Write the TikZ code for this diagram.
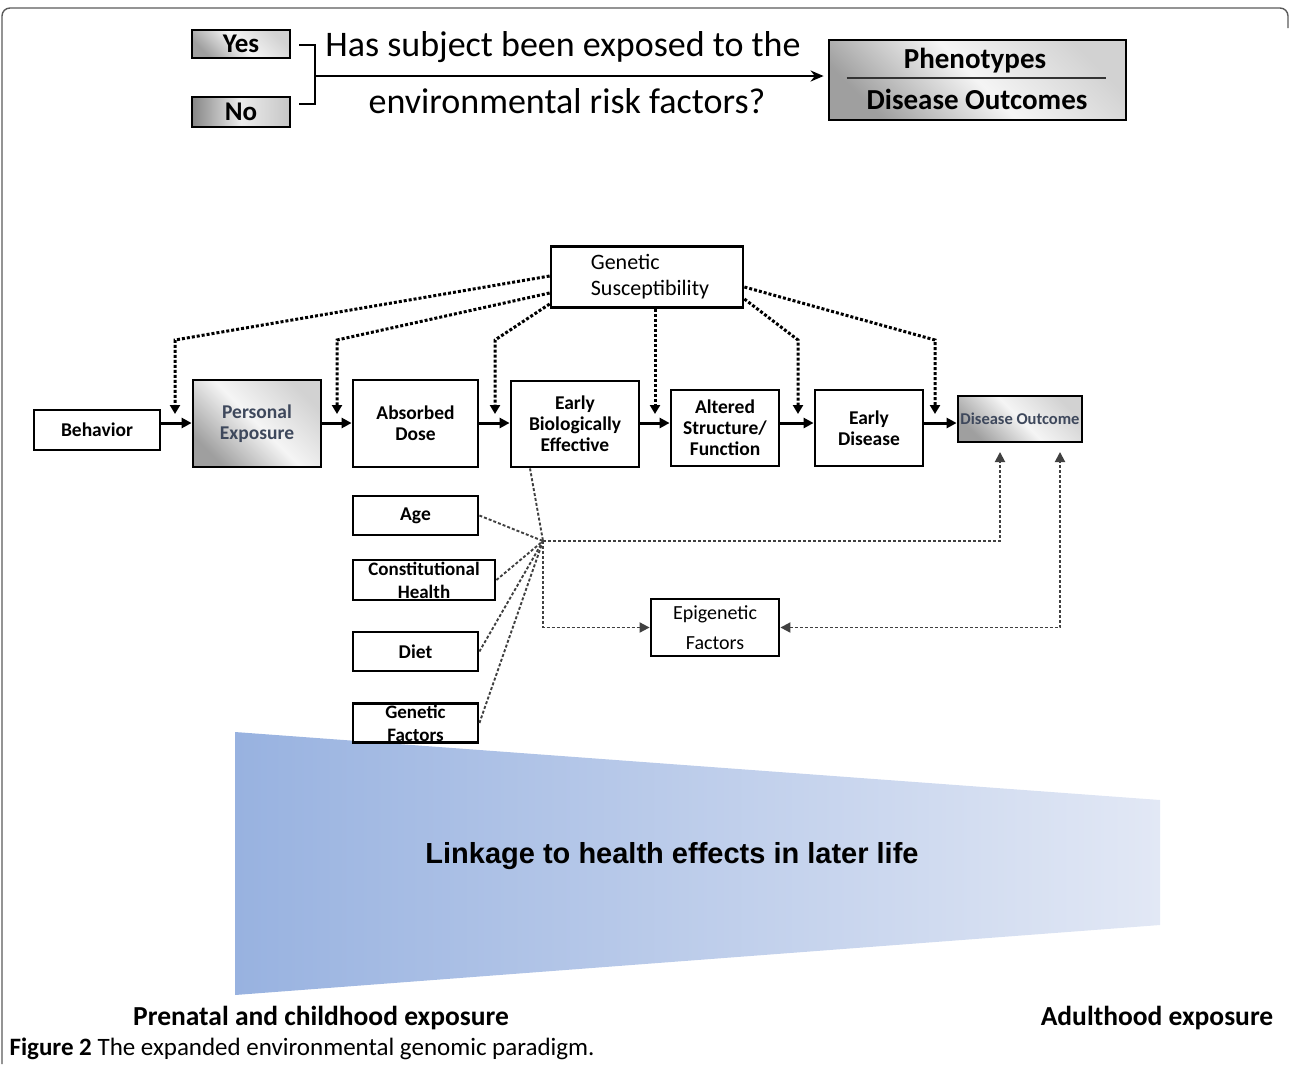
\documentclass[tikz,border=0pt]{standalone}
\usepackage{fontspec}
\setmainfont{Carlito}
\newfontfamily\arialfont{Liberation Sans}
\usetikzlibrary{arrows.meta}
\definecolor{slate}{RGB}{62,72,92}
\definecolor{wedgel}{RGB}{152,178,224}
\definecolor{wedger}{RGB}{226,232,245}
\definecolor{framec}{RGB}{90,90,90}

\begin{document}
\begin{tikzpicture}[x=1pt, y=-1pt,
  box/.style={draw=black, line width=2.8pt, fill=white, inner sep=1pt, align=center,
    font=\fontsize{19.5}{21}\selectfont\bfseries},
  metal/.style={box, left color=gray!75, right color=gray!35, middle color=gray!8, shading angle=135},
  choice/.style={metal, minimum width=98pt, font=\fontsize{27}{27}\selectfont\bfseries},
  flow/.style={line width=3pt, -{Triangle[length=10pt,width=10pt]}},
  gsline/.style={line width=3pt, dash pattern=on 3pt off 2pt, -{Triangle[length=9pt,width=10pt]}},
  hubline/.style={line width=1.9pt, black!75, dash pattern=on 3pt off 2pt},
  hubarrow/.style={hubline, -{Triangle[length=10pt,width=10pt]}},
]
\useasboundingbox (0,0) rectangle (1290,1072);
\draw[framec, line width=1.4pt, rounded corners=8pt] (2,1064) -- (2,8) -- (1288,8) -- (1288,28);

% question on top
\node[choice, minimum height=28pt] (yes) at (241,44) {Yes};
\node[choice, minimum height=30pt, left color=gray!95, right color=gray!45, middle color=gray!15] (no) at (241,112) {No};
\node[metal, minimum width=297pt, minimum height=80pt] (pheno) at (977.5,80) {};
\node[font=\fontsize{29}{29}\selectfont\bfseries] (phenot) at (975,61) {Phenotypes};
\node[font=\fontsize{29}{29}\selectfont\bfseries] (disoutc) at (977,99) {Disease Outcomes};
\draw[line width=2pt, black!80] ([xshift=19pt,yshift=2pt]pheno.west) -- ([xshift=-21pt,yshift=2pt]pheno.east);
\coordinate (brk) at (315,76);
\draw[line width=2pt] ([xshift=8pt,yshift=-1pt]yes.east) -| (brk) |- ([xshift=8pt,yshift=8pt]no.east);
\draw[line width=2.2pt, -{Stealth[length=13pt,width=11pt]}, shorten >=4pt] (brk) -- (pheno.west |- brk);
\node[font=\fontsize{36}{36}\selectfont] (qa) at (563,47) {Has subject been exposed to the};
\node[font=\fontsize{36}{36}\selectfont] (qb) at (567,101) {environmental risk factors?};

% wedge
\shade[left color=wedgel, right color=wedger] (235,732) -- (1160,800) -- (1160,925) -- (235,995) -- cycle;
\node[font=\arialfont\bfseries\fontsize{29}{29}\selectfont] (linkage) at (672,856) {Linkage to health effects in later life};

% main chain
\node[box, minimum width=192pt, minimum height=61pt, align=left, font=\fontsize{22}{26}\selectfont] (gensus) at (647,277) {\hspace*{6pt}Genetic\\\hspace*{6pt}Susceptibility};
\node[box, minimum width=126pt, minimum height=40pt] (behav) at (97,430) {Behavior};
\node[metal, minimum width=128pt, minimum height=87pt, text=slate] (persexp) at (257,423.5) {Personal\\Exposure};
\node[box, minimum width=125pt, minimum height=87pt] (absdose) at (415.5,423.5) {Absorbed\\Dose};
\node[box, minimum width=128pt, minimum height=86pt] (earlybio) at (575,424) {Early\\Biologically\\Effective};
\node[box, minimum width=108pt, minimum height=76pt] (altered) at (725,428) {Altered\\Structure/\\Function};
\node[box, minimum width=108pt, minimum height=76pt] (earlydis) at (869,428) {Early\\Disease};
\node[metal, minimum width=124pt, minimum height=46pt, text=slate, font=\fontsize{16.5}{18}\selectfont\bfseries] (disout) at (1020,419) {Disease Outcome};

\coordinate (row) at (0,423);
\draw[flow] (behav.east |- row) -- (persexp.west |- row);
\draw[flow] (persexp.east |- row) -- (absdose.west |- row);
\draw[flow] (absdose.east |- row) -- (earlybio.west |- row);
\draw[flow] (earlybio.east |- row) -- (altered.west |- row);
\draw[flow] (altered.east |- row) -- (earlydis.west |- row);
\draw[flow] (earlydis.east |- row) -- (disout.west |- row);

% susceptibility links
\coordinate (knee) at (0,340);
\coordinate (tipa) at (175,414);
\coordinate (tipb) at (337,414);
\coordinate (tipc) at (495,414);
\coordinate (tipd) at (798,414);
\coordinate (tipe) at (935,414);
\draw[gsline] ([yshift=1pt]gensus.west) -- (tipa |- knee) -- (tipa);
\draw[gsline] ([yshift=-16pt]gensus.west) -- (tipb |- knee) -- (tipb);
\draw[gsline] ([yshift=-27pt]gensus.west) -- (tipc |- knee) -- (tipc);
\draw[gsline] ([xshift=8pt]gensus.south) -- ([xshift=8pt]gensus.south |- tipa);
\draw[gsline] ([yshift=-22pt]gensus.east) -- (tipd |- knee) -- (tipd);
\draw[gsline] ([yshift=-10pt]gensus.east) -- (tipe |- knee) -- (tipe);

% modifiers
\node[box, minimum width=125pt, minimum height=39pt] (age) at (415.5,515.5) {Age};
\node[box, minimum width=142pt, minimum height=40pt, font=\fontsize{19}{23}\selectfont\bfseries] (consth) at (424,580) {Constitutional\\Health};
\node[box, minimum width=125pt, minimum height=39pt] (diet) at (415.5,651.5) {Diet};
\node[box, minimum width=125pt, minimum height=38pt, font=\fontsize{19}{23}\selectfont\bfseries] (genfac) at (415.5,723) {Genetic\\Factors};
\node[box, minimum width=128pt, minimum height=57pt, font=\fontsize{20}{30}\selectfont] (epigen) at (715,627.5) {Epigenetic\\Factors};

\coordinate (hub) at (543,541);
\coordinate (upa) at (1000,452);
\coordinate (upb) at (1060,452);
\draw[hubline] ([xshift=-45pt]earlybio.south) -- (hub);
\draw[hubline] (age.east) -- (hub);
\draw[hubline] (consth.east) -- (hub);
\draw[hubline] (diet.east) -- (hub);
\draw[hubline] (genfac.east) -- (hub);
\draw[hubarrow] (hub) -- (upa |- hub) -- (upa);
\draw[hubarrow] (hub) -- (hub |- epigen.west) -- (epigen.west);
\draw[hubline, {Triangle[length=10pt,width=10pt]}-{Triangle[length=10pt,width=10pt]}] (epigen.east) -- (upb |- epigen.east) -- (upb);

% exposure periods and caption
\node[font=\fontsize{27.5}{27.5}\selectfont\bfseries] (prenatal) at (321,1018) {Prenatal and childhood exposure};
\node[font=\fontsize{27.5}{27.5}\selectfont\bfseries] (adult) at (1157,1018) {Adulthood exposure};
\node[anchor=west, font=\fontsize{25}{25}\selectfont] (caption) at (6,1049) {\textbf{Figure 2} The expanded environmental genomic paradigm.};
\end{tikzpicture}
\end{document}
